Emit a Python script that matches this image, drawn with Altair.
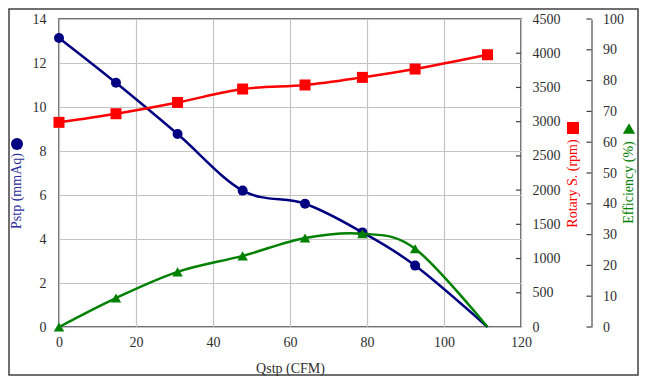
import altair as alt
import pandas as pd

# ---- data ----
q_cfm = [0, 14.8, 30.8, 47.7, 63.9, 78.8, 92.5, 111.3]
pstp = [13.14, 11.1, 8.77, 6.2, 5.6, 4.3, 2.79, 0]
rpm = [2990, 3116, 3281, 3477, 3536, 3647, 3769, 3978]
eff = [0, 9.4, 17.9, 23.1, 28.9, 30.3, 25.4, 0]
has_marker_pe = [True, True, True, True, True, True, True, False]

x_ticks = [0, 20, 40, 60, 80, 100, 120]
p_ticks = [0, 2, 4, 6, 8, 10, 12, 14]
rpm_ticks = [0, 500, 1000, 1500, 2000, 2500, 3000, 3500, 4000, 4500]
eff_ticks = [0, 10, 20, 30, 40, 50, 60, 70, 80, 90, 100]

W, H = 462, 308
PAD = {"left": 51, "top": 11, "right": 118, "bottom": 49}
FONT = "Liberation Serif"
NAVY, RED, GREEN = "#000080", "#ff0000", "#008000"
LBL = "#2e2e2e"
EFF_OFF = 70.5

common = dict(labelFont=FONT, labelFontSize=14, labelColor=LBL, labelOverlap=False,
              labelFlush=False, labelBound=False, format="d", ticks=False, tickSize=0)

df = pd.DataFrame({"q": q_cfm, "p": pstp, "rpm": rpm, "eff": eff, "m": has_marker_pe})

x_scale = alt.Scale(domain=[0, 120], nice=False)
x_axis = alt.Axis(values=x_ticks, title="Qstp (CFM)", grid=True,
                  domain=False, labelPadding=8, titleY=41, titleBaseline="middle",
                  titleFont=FONT, titleFontSize=14, titleFontWeight="normal",
                  titleColor=LBL, **common)
xenc = alt.X("q:Q", scale=x_scale, axis=x_axis)

# Pstp series
p_scale = alt.Scale(domain=[0, 14], nice=False)
p_axis = alt.Axis(values=p_ticks, grid=True, domain=False, labelPadding=13, title=None, **common)
p_y = alt.Y("p:Q", scale=p_scale, axis=p_axis)
p_line = alt.Chart(df).mark_line(color=NAVY, strokeWidth=2.5, interpolate="cardinal").encode(x=xenc, y=p_y)
p_pts = alt.Chart(df).transform_filter("datum.m").mark_point(
    shape="circle", filled=True, color=NAVY, size=100, opacity=1).encode(x=xenc, y=p_y)
blue = alt.layer(p_line, p_pts)

# rpm series
r_scale = alt.Scale(domain=[0, 4500], nice=False)
r_axis = alt.Axis(orient="right", values=rpm_ticks, grid=False, domain=False,
                  labelPadding=11, title=None, **common)
r_y = alt.Y("rpm:Q", scale=r_scale, axis=r_axis)
r_line = alt.Chart(df).mark_line(color=RED, strokeWidth=2.5, interpolate="cardinal").encode(x=xenc, y=r_y)
r_pts = alt.Chart(df).mark_point(shape="square", filled=True, color=RED, size=121, opacity=1).encode(
    x=xenc, y=r_y)
r_tick_df = pd.DataFrame({"rpm": rpm_ticks[1:-1]})
r_ticks = alt.Chart(r_tick_df).mark_rule(color="#404040", strokeWidth=1.2).encode(
    y=r_y, x=alt.value(W - 5), x2=alt.value(W))
red = alt.layer(r_line, r_pts, r_ticks)

# efficiency series
e_scale = alt.Scale(domain=[0, 100], nice=False)
e_axis = alt.Axis(orient="right", offset=EFF_OFF, values=eff_ticks, grid=False,
                  domain=True, domainColor="#707070", domainWidth=1.5,
                  labelPadding=11, title=None, **common)
e_y = alt.Y("eff:Q", scale=e_scale, axis=e_axis)
e_line = alt.Chart(df).mark_line(color=GREEN, strokeWidth=2.5, interpolate="cardinal").encode(x=xenc, y=e_y)
e_pts = alt.Chart(df).transform_filter("datum.m").mark_point(
    shape="triangle-up", filled=True, color=GREEN, size=110, opacity=1).encode(x=xenc, y=e_y)
e_tick_df = pd.DataFrame({"eff": eff_ticks})
e_ticks = alt.Chart(e_tick_df).mark_rule(color="#404040", strokeWidth=1.2).encode(
    y=e_y, x=alt.value(W + EFF_OFF - 5), x2=alt.value(W + EFF_OFF))
green = alt.layer(e_line, e_pts, e_ticks)


def label(txt, xp, yp, color):
    return alt.Chart(pd.DataFrame({"t": [txt]})).mark_text(
        font=FONT, fontSize=14, color=color, angle=270, align="center", baseline="middle"
    ).encode(x=alt.value(xp), y=alt.value(yp), text="t:N")


def sym(shape, xp, yp, color, size):
    return alt.Chart(pd.DataFrame({"s": [shape]})).mark_point(
        shape=shape, filled=True, color=color, size=size, opacity=1
    ).encode(x=alt.value(xp), y=alt.value(yp))


deco = [
    label("Pstp (mmAq)", -42, 172, "#2a2a9a"),
    sym("circle", -42, 125, NAVY, 144),
    label("Rotary S. (rpm)", 514, 164.5, RED),
    sym("square", 514, 109, RED, 144),
    label("Efficiency (%)", 570, 163.5, GREEN),
    sym("triangle-up", 570, 109.5, GREEN, 150),
]

frame = alt.Chart(pd.DataFrame({"f": [1]})).mark_rect(
    filled=False, stroke="#404040", strokeWidth=1.5
).encode(x=alt.value(-PAD["left"] + 1), x2=alt.value(W + PAD["right"] - 1),
         y=alt.value(-PAD["top"] + 1), y2=alt.value(H + PAD["bottom"] - 1))

chart = alt.layer(blue, red, green, *deco, frame).resolve_scale(y="independent").properties(
    width=W, height=H, padding=PAD, autosize=alt.AutoSizeParams(type="none")
).configure(
    font=FONT
).configure_view(
    stroke="#404040", strokeWidth=1.5
).configure_axis(
    labelFont=FONT, labelFontSize=14, labelColor=LBL, gridColor="#c4c4c4", gridWidth=1.2,
    titleFont=FONT
)

chart.save("out.html", embed_options={"renderer": "svg", "actions": False})
